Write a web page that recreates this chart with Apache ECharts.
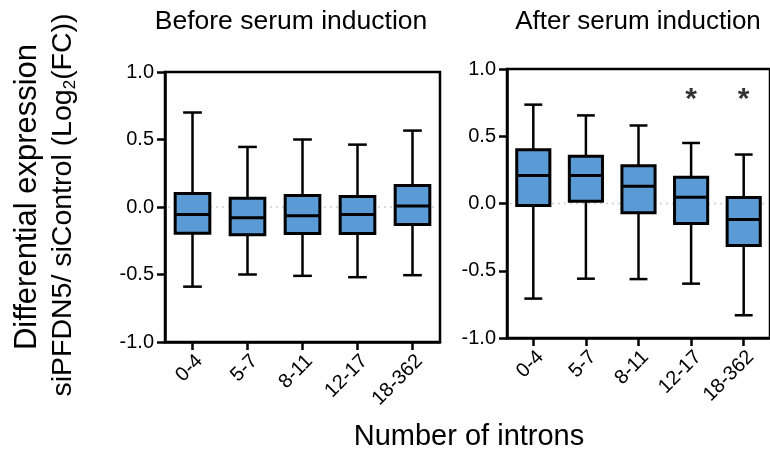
<!DOCTYPE html>
<html>
<head>
<meta charset="utf-8">
<script src="https://cdn.jsdelivr.net/npm/echarts@6/dist/echarts.min.js"></script>
<style>
html,body{margin:0;padding:0;background:#fff;}
#chart{width:770px;height:456px;}
</style>
</head>
<body>
<div id="chart"></div>
<script>
// ---- data ----
const categories = ['0-4', '5-7', '8-11', '12-17', '18-362'];
const yTicks = [-1.0, -0.5, 0.0, 0.5, 1.0];
const referenceLevel = 0.0;

const beforeMin = [-0.59, -0.50, -0.51, -0.52, -0.505];
const beforeQ1  = [-0.195, -0.205, -0.197, -0.197, -0.13];
const beforeMed = [-0.056, -0.08, -0.064, -0.056, 0.007];
const beforeQ3  = [0.10, 0.065, 0.085, 0.077, 0.159];
const beforeMax = [0.70, 0.445, 0.50, 0.462, 0.566];

const afterMin = [-0.707, -0.559, -0.562, -0.596, -0.831];
const afterQ1  = [-0.015, 0.017, -0.069, -0.148, -0.312];
const afterMed = [0.208, 0.208, 0.128, 0.047, -0.119];
const afterQ3  = [0.40, 0.351, 0.28, 0.195, 0.045];
const afterMax = [0.735, 0.655, 0.58, 0.45, 0.364];

const sigCategories = ['12-17', '18-362'];
const sigValue = 0.80;

const titleBefore = 'Before serum induction';
const titleAfter = 'After serum induction';
const xTitle = 'Number of introns';

// ---- styling ----
const FONT = "'Liberation Sans', Arial, Helvetica, sans-serif";
const BOX_FILL = '#5b9bd5';

function boxData(mn, q1, md, q3, mx) {
  return categories.map((c, i) => [i, mn[i], q1[i], md[i], q3[i], mx[i]]);
}

function renderBox(params, api) {
  const i = api.value(0);
  const pMin = api.coord([i, api.value(1)]);
  const pQ1 = api.coord([i, api.value(2)]);
  const pMed = api.coord([i, api.value(3)]);
  const pQ3 = api.coord([i, api.value(4)]);
  const pMax = api.coord([i, api.value(5)]);
  const band = api.size([1, 0])[0];
  const bw = band * 0.63;
  const cw = band * 0.34;
  const x = pMed[0];
  const lineStyle = { stroke: '#000', lineWidth: 2.5, fill: null };
  return {
    type: 'group',
    children: [
      { type: 'line', shape: { x1: x, y1: pMax[1], x2: x, y2: pQ3[1] }, style: lineStyle },
      { type: 'line', shape: { x1: x, y1: pQ1[1], x2: x, y2: pMin[1] }, style: lineStyle },
      { type: 'line', shape: { x1: x - cw / 2, y1: pMax[1], x2: x + cw / 2, y2: pMax[1] }, style: lineStyle },
      { type: 'line', shape: { x1: x - cw / 2, y1: pMin[1], x2: x + cw / 2, y2: pMin[1] }, style: lineStyle },
      { type: 'rect', shape: { x: x - bw / 2, y: pQ3[1], width: bw, height: pQ1[1] - pQ3[1] },
        style: { fill: BOX_FILL, stroke: '#000', lineWidth: 3 } },
      { type: 'line', shape: { x1: x - bw / 2, y1: pMed[1], x2: x + bw / 2, y2: pMed[1] },
        style: { stroke: '#000', lineWidth: 3 } }
    ]
  };
}

function renderZero(params, api) {
  const cs = params.coordSys;
  const y = api.coord([0, api.value(1)])[1];
  return {
    type: 'line',
    shape: { x1: cs.x + 3, y1: y, x2: cs.x + cs.width - 2, y2: y },
    style: { stroke: '#cfcfcf', lineWidth: 1.5, lineDash: [2, 4] }
  };
}

function yAxisCfg(gi) {
  return {
    gridIndex: gi, type: 'value', min: yTicks[0], max: yTicks[yTicks.length - 1], interval: 0.5,
    axisLine: { show: true, onZero: false, lineStyle: { color: '#000', width: 2.5 } },
    axisTick: { show: true, length: 8, lineStyle: { color: '#000', width: 2.5 } },
    axisLabel: { color: '#000', fontSize: 20, fontFamily: FONT, margin: 11,
      formatter: v => v.toFixed(1) },
    splitLine: { show: false }
  };
}
function xAxisCfg(gi) {
  return {
    gridIndex: gi, type: 'category', data: categories, boundaryGap: true,
    axisLine: { show: true, onZero: false, lineStyle: { color: '#000', width: 2.5 } },
    axisTick: { show: true, alignWithLabel: true, length: 8, lineStyle: { color: '#000', width: 2.5 } },
    axisLabel: { color: '#000', fontSize: 20, fontFamily: FONT, rotate: 45, margin: 9, interval: 0, verticalAlign: 'top' },
    splitLine: { show: false }
  };
}

const chart = echarts.init(document.getElementById('chart'), null, { renderer: 'canvas' });
chart.setOption({
  animation: false,
  backgroundColor: '#fff',
  grid: [
    { left: 165, top: 72, width: 275, height: 270, show: true, borderColor: '#000', borderWidth: 2.5, containLabel: false },
    { left: 507, top: 69, width: 275, height: 269, show: true, borderColor: '#000', borderWidth: 2.5, containLabel: false }
  ],
  xAxis: [xAxisCfg(0), xAxisCfg(1)],
  yAxis: [yAxisCfg(0), yAxisCfg(1)],
  series: [
    { type: 'custom', xAxisIndex: 0, yAxisIndex: 0, renderItem: renderZero, silent: true,
      data: [[0, referenceLevel]], z: 1 },
    { type: 'custom', xAxisIndex: 1, yAxisIndex: 1, renderItem: renderZero, silent: true,
      data: [[0, referenceLevel]], z: 1 },
    { type: 'custom', xAxisIndex: 0, yAxisIndex: 0, renderItem: renderBox,
      data: boxData(beforeMin, beforeQ1, beforeMed, beforeQ3, beforeMax),
      encode: { x: 0, y: [1, 2, 3, 4, 5] }, z: 3 },
    { type: 'custom', xAxisIndex: 1, yAxisIndex: 1, renderItem: renderBox,
      data: boxData(afterMin, afterQ1, afterMed, afterQ3, afterMax),
      encode: { x: 0, y: [1, 2, 3, 4, 5] }, z: 3 },
    { type: 'scatter', xAxisIndex: 1, yAxisIndex: 1, symbolSize: 0, silent: true,
      data: sigCategories.map(c => [c, sigValue]),
      label: { show: true, position: 'inside', formatter: '*', color: '#000',
        fontSize: 30, fontWeight: 'bold', fontFamily: FONT, offset: [0, 4] } }
  ],
  graphic: [
    { type: 'text', x: 291, y: 22, style: { text: titleBefore, font: '26.5px ' + FONT, fill: '#000', textAlign: 'center', textVerticalAlign: 'middle' } },
    { type: 'text', x: 638, y: 22, style: { text: titleAfter, font: '26px ' + FONT, fill: '#000', textAlign: 'center', textVerticalAlign: 'middle' } },
    { type: 'text', x: 469, y: 437, style: { text: xTitle, font: '29px ' + FONT, fill: '#000', textAlign: 'center', textVerticalAlign: 'middle' } },
    { type: 'text', x: 27, y: 197, rotation: Math.PI / 2,
      style: { text: 'Differential expression', font: '31px ' + FONT, fill: '#000', textAlign: 'center', textVerticalAlign: 'middle' } },
    { type: 'text', x: 63, y: 205, rotation: Math.PI / 2,
      style: { text: '{n|siPFDN5/ siControl (Log}{s|2}{n|(FC))}', fill: '#000', textAlign: 'center', textVerticalAlign: 'middle',
        rich: {
          n: { fontSize: 28.5, fontFamily: FONT, lineHeight: 32, fill: '#000' },
          s: { fontSize: 17, fontFamily: FONT, lineHeight: 14, verticalAlign: 'bottom', fill: '#000' }
        } } }
  ]
});
</script>
</body>
</html>
